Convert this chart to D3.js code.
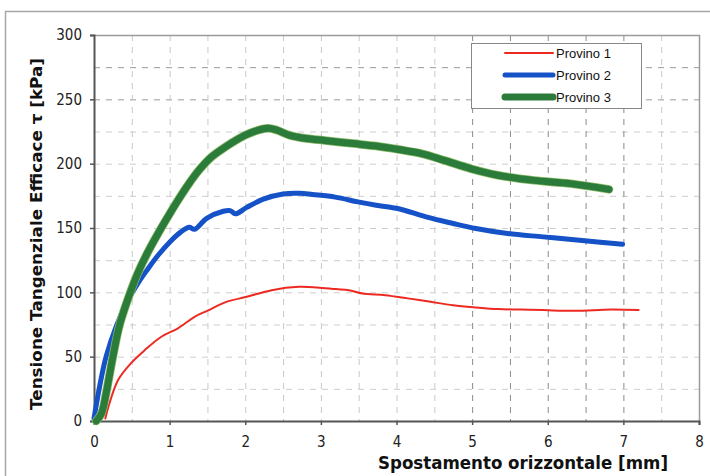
<!DOCTYPE html>
<html><head><meta charset="utf-8">
<script src="https://cdn.jsdelivr.net/npm/d3@7"></script>
<style>body{margin:0;background:#fff}svg{display:block}</style>
</head><body>
<svg id="c" width="710" height="476"></svg>
<script>
const xTicks = [0,1,2,3,4,5,6,7,8];
const yTicks = [0,50,100,150,200,250,300];
const seriesNames = ["Provino 1","Provino 2","Provino 3"];
const p1X = [0.15,0.19,0.32,0.49,0.67,0.89,1.11,1.33,1.51,1.75,2.02,2.35,2.71,2.95,3.2,3.37,3.55,3.85,4.15,4.45,4.75,5.05,5.34,5.65,5.94,6.36,6.84,7.2];
const p1Y = [2,11,32,45,55,65.5,72,81,86,92.6,96.5,101.7,104.3,103.8,102.5,101.7,99.1,97.8,95.3,92.6,90,88.3,87,86.6,86.2,85.6,86.7,86.2];
const p2X = [0,0.075,0.16,0.3,0.45,0.58,0.71,0.85,1.0,1.15,1.26,1.33,1.49,1.71,1.80,1.87,2.02,2.24,2.5,2.72,2.89,3.19,3.49,3.73,4.03,4.39,4.75,5.05,5.47,5.94,6.42,6.99];
const p2Y = [2,27,50,74.5,94,107,118,129,139,147,150.5,149,157.5,163,163.5,161,166,172.5,176.5,177,176,174,170.3,167.7,165,158.6,153.5,149.6,145.7,143.1,140.5,137.4];
const p3X = [0.03,0.1,0.16,0.25,0.34,0.45,0.58,0.71,0.85,1.0,1.11,1.25,1.39,1.55,1.75,1.9,2.05,2.3,2.42,2.59,2.81,3.05,3.43,3.73,4.03,4.33,4.63,4.99,5.34,5.82,6.30,6.81];
const p3Y = [0,6,21.5,50,75,95,115,131,146,161,171.5,184,195,205,213.5,219,223.5,227.5,226,222,219.5,218,215.6,213.7,211,207.8,202.6,196,191,187,184.5,180];

const svg = d3.select("#c");
const L = 94, R = 699, T = 35, B = 421;
const x = d3.scaleLinear().domain([0,8]).range([L,R]);
const y = d3.scaleLinear().domain([0,300]).range([B,T]);

// outer frame
svg.append("rect").attr("x",5.5).attr("y",11.5).attr("width",720).attr("height",480)
  .attr("fill","none").attr("stroke","#a8a8a8").attr("stroke-width",1.5);

// grid
const g = svg.append("g");
g.selectAll("line.h").data(d3.range(25,300,25)).join("line")
  .attr("x1",L).attr("x2",R).attr("y1",d=>y(d)+0.5).attr("y2",d=>y(d)+0.5)
  .attr("stroke",d=>d>=250?"#9a9a9a":"#cdcdcd").attr("stroke-dasharray","6,6").attr("stroke-width",1);
g.selectAll("line.v").data(d3.range(0.5,8,0.5)).join("line")
  .attr("y1",T).attr("y2",B).attr("x1",d=>x(d)+0.5).attr("x2",d=>x(d)+0.5)
  .attr("stroke",d=>d>=5&&d<=7?"#8a8a8a":"#c8c8c8").attr("stroke-dasharray","6,6").attr("stroke-width",1);

// plot border top/right
svg.append("path").attr("d",`M${L},${T+0.5}H${R+0.5}V${B}`).attr("fill","none").attr("stroke","#9a9a9a").attr("stroke-width",1.5);

// axes
const ax = svg.append("g").attr("transform",`translate(0,${B})`)
  .call(d3.axisBottom(x).tickValues(xTicks).tickSize(4).tickPadding(8).tickFormat(d3.format("d")));
const ay = svg.append("g").attr("transform",`translate(${L},0)`)
  .call(d3.axisLeft(y).tickValues(yTicks).tickSize(4).tickPadding(8));
[ax,ay].forEach(a=>{
  a.select(".domain").attr("stroke","#555").attr("stroke-width",2);
  a.selectAll(".tick line").attr("stroke","#555").attr("stroke-width",1.5);
  a.selectAll("text").attr("font-family","'DejaVu Sans Condensed','DejaVu Sans',sans-serif").attr("font-size",15).attr("fill","#222");
});
ax.selectAll("text").attr("dy","0.9em");

// series
const line = d3.line().x(d=>x(d[0])).y(d=>y(d[1])).curve(d3.curveCatmullRom.alpha(0.5));
const zip = (a,b)=>a.map((v,i)=>[v,b[i]]);
const series = [
  {name:seriesNames[0], pts:zip(p1X,p1Y), color:"#ec2a22", w:2},
  {name:seriesNames[1], pts:zip(p2X,p2Y), color:"#1552c8", w:5},
  {name:seriesNames[2], pts:zip(p3X,p3Y), color:"#2b7b3a", w:7}
];
series.forEach(s=>{
  if(s.w>=7){
    svg.append("path").attr("d",line(s.pts)).attr("fill","none").attr("stroke","#8dbb6a")
      .attr("stroke-width",s.w+1.5).attr("stroke-linejoin","round").attr("stroke-linecap","round");
  }
  svg.append("path").attr("d",line(s.pts)).attr("fill","none").attr("stroke",s.color)
    .attr("stroke-width",s.w).attr("stroke-linejoin","round").attr("stroke-linecap","round");
});

// legend
const lg = svg.append("g");
lg.append("rect").attr("x",471.5).attr("y",43.5).attr("width",170).attr("height",65)
  .attr("fill","#fff").attr("stroke","#888").attr("stroke-width",1);
series.forEach((s,i)=>{
  const yy = 53 + i*22;
  lg.append("line").attr("x1",505).attr("x2",553).attr("y1",yy).attr("y2",yy)
    .attr("stroke",s.color).attr("stroke-width",s.w).attr("stroke-linecap","round");
  lg.append("text").attr("x",556).attr("y",yy).attr("dy","0.35em")
    .attr("font-family","'Liberation Sans',Arial,sans-serif").attr("font-size",13).attr("fill","#111").text(s.name);
});

// axis titles
svg.append("text").attr("x",523).attr("y",469)
  .attr("text-anchor","middle").attr("font-family","'DejaVu Sans Condensed','DejaVu Sans',sans-serif")
  .attr("font-weight","bold").attr("font-size",17).attr("fill","#111")
  .attr("textLength",290).attr("lengthAdjust","spacingAndGlyphs")
  .text("Spostamento orizzontale  [mm]");
svg.append("text").attr("transform","translate(42,234) rotate(-90)")
  .attr("text-anchor","middle").attr("font-family","'DejaVu Sans',sans-serif")
  .attr("font-weight","bold").attr("font-size",16).attr("fill","#111")
  .attr("textLength",352).attr("lengthAdjust","spacingAndGlyphs")
  .text("Tensione Tangenziale Efficace τ  [kPa]");
</script>
</body></html>
